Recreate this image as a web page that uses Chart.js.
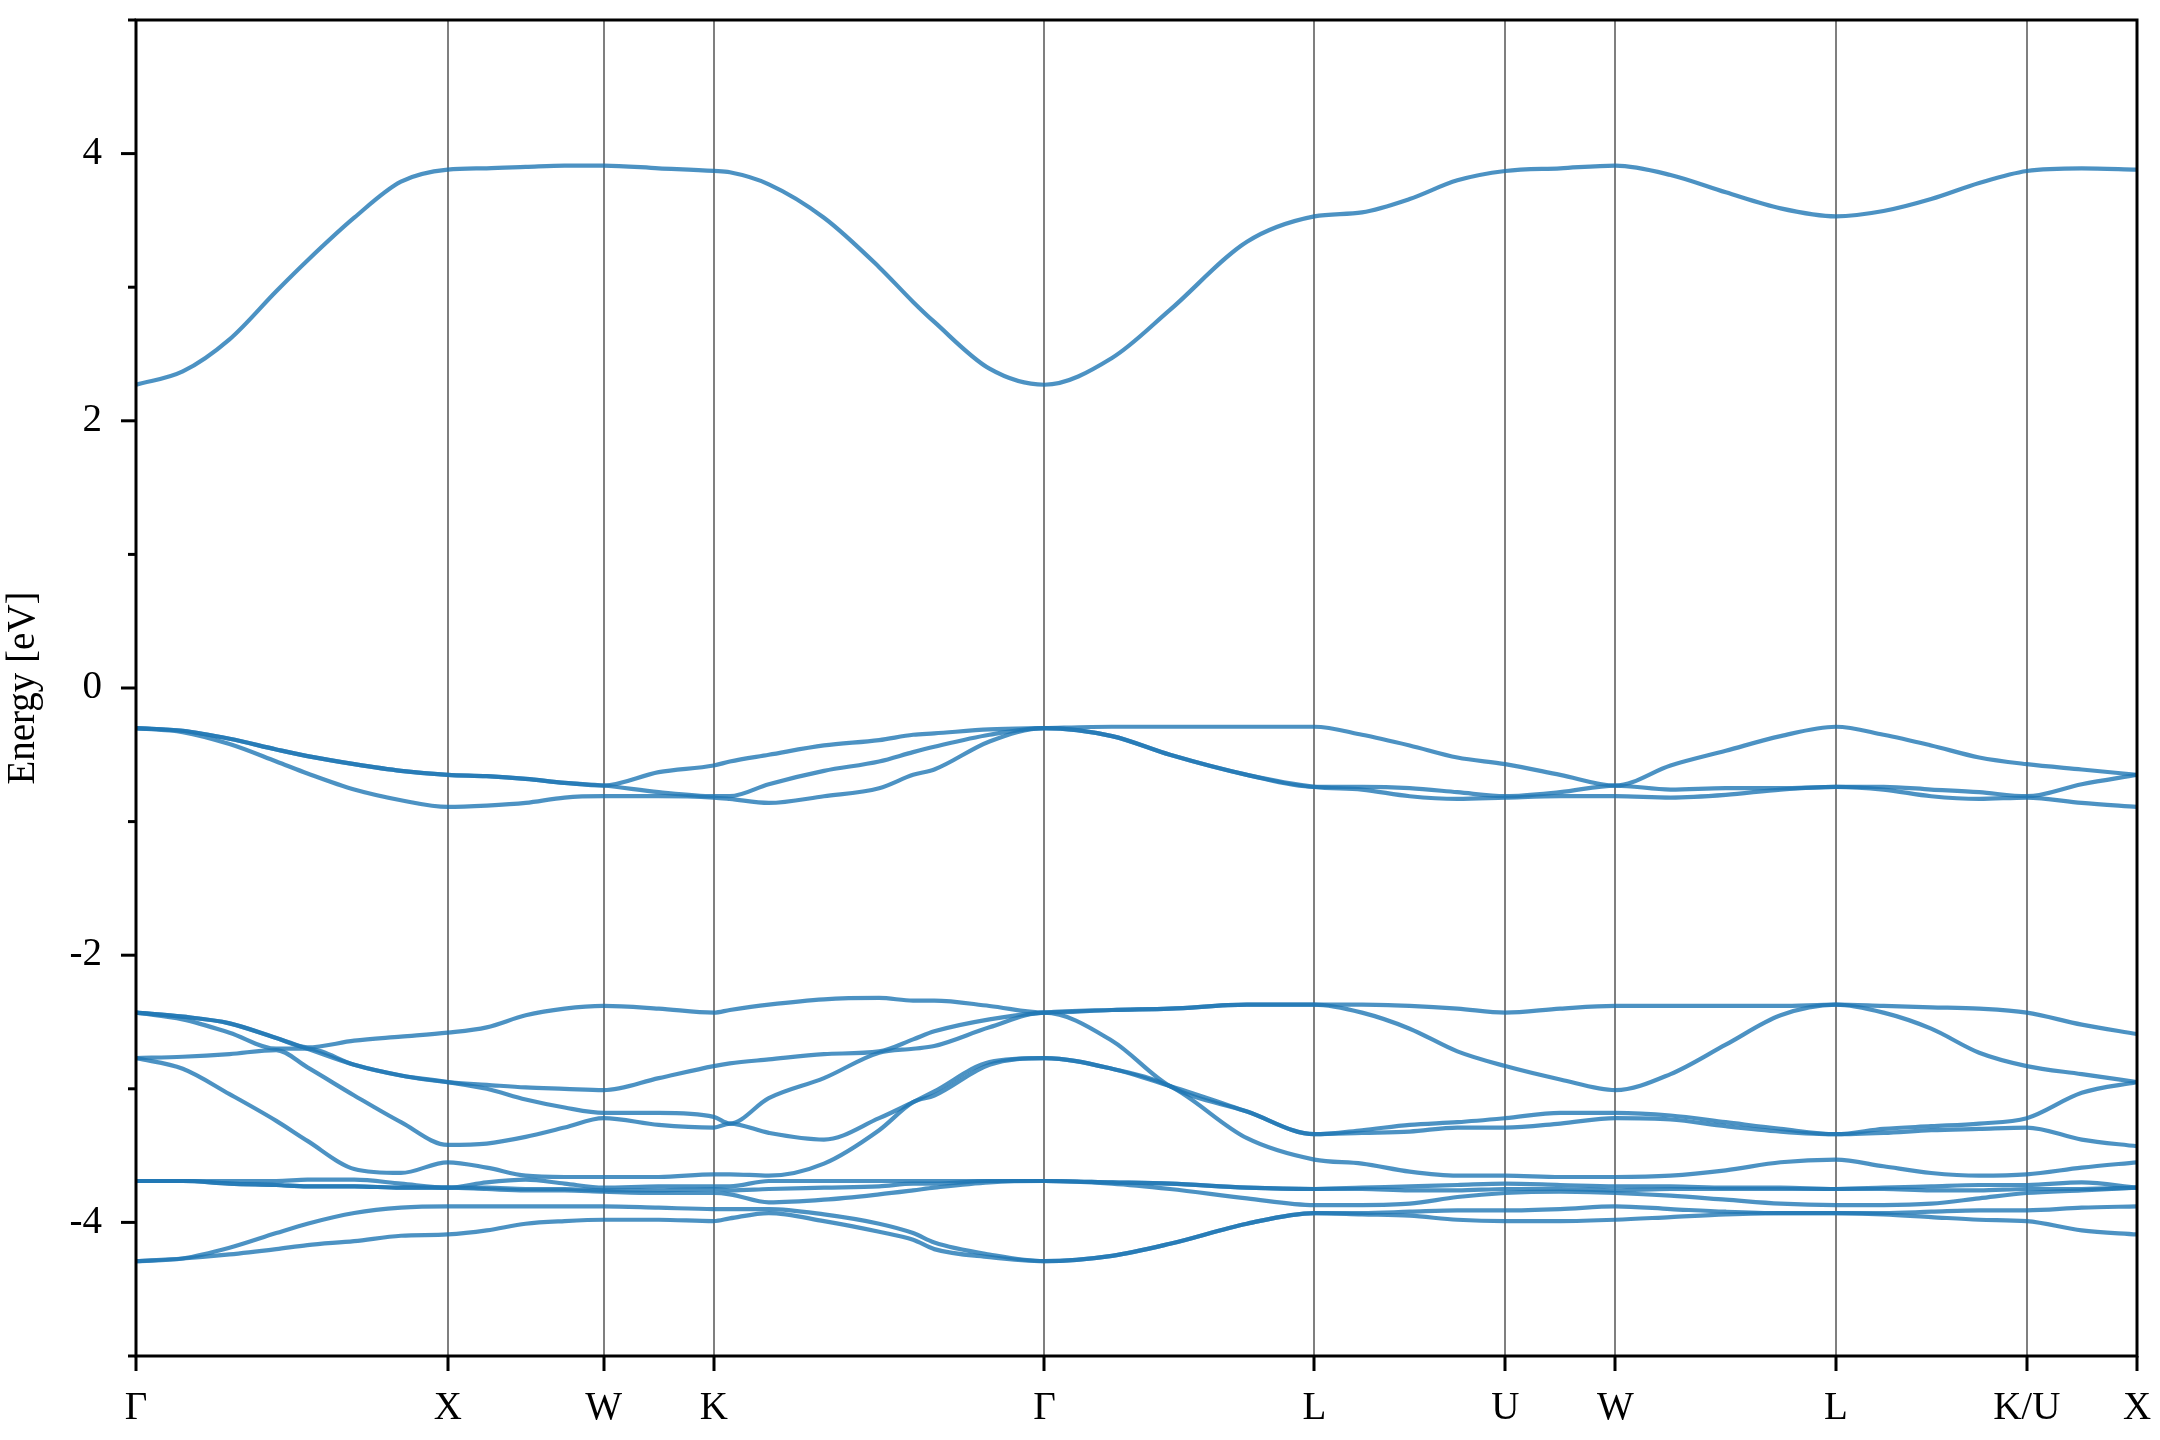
<!DOCTYPE html>
<html>
<head>
<meta charset="utf-8">
<script src="https://cdn.jsdelivr.net/npm/chart.js@4.4.1/dist/chart.umd.min.js"></script>
<style>
  html, body { margin: 0; padding: 0; background: #fff; }
  #wrap { width: 2160px; height: 1440px; }
</style>
</head>
<body>
<div id="wrap"><canvas id="bands"></canvas></div>
<script>
// k-path distances (2pi/a units) along G-X-W-K-G-L-U-W-L-K|U-X
const kPath = [0, 0.15, 0.3, 0.45, 0.55, 0.7, 0.85, 1.0, 1.125, 1.25, 1.375, 1.5, 1.677, 1.8536,
  1.905, 2.03, 2.207, 2.384, 2.493, 2.561, 2.738, 2.9142, 3.131, 3.317, 3.564, 3.7802,
  3.933, 4.086, 4.239, 4.3926, 4.569, 4.7462, 4.923, 5.1, 5.276, 5.4533,
  5.606, 5.759, 5.913, 6.0657, 6.242, 6.4193];

const kTicks = [0, 1, 1.5, 1.8536, 2.9142, 3.7802, 4.3926, 4.7462, 5.4533, 6.0657, 6.4193];
const kLabels = ['Γ', 'X', 'W', 'K', 'Γ', 'L', 'U', 'W', 'L', 'K/U', 'X'];
const yMajor = [-4, -2, 0, 2, 4];
const yMinor = [-5, -3, -1, 1, 3, 5];

// band energies in eV, lowest first
const band1 = [-4.29,-4.27,-4.24,-4.20,-4.17,-4.14,-4.10,-4.09,-4.06,-4.01,-3.99,-3.98,-3.98,-3.99,-3.97,-3.93,-3.99,-4.07,-4.13,-4.20,-4.26,-4.29,-4.25,-4.16,-4.01,-3.93,-3.94,-3.95,-3.98,-3.99,-3.99,-3.98,-3.96,-3.94,-3.93,-3.93,-3.94,-3.96,-3.98,-3.99,-4.06,-4.09];
const band2 = [-4.29,-4.27,-4.19,-4.08,-4.01,-3.93,-3.89,-3.88,-3.88,-3.88,-3.88,-3.88,-3.89,-3.90,-3.90,-3.90,-3.94,-4.01,-4.08,-4.15,-4.24,-4.29,-4.25,-4.16,-4.01,-3.93,-3.93,-3.92,-3.91,-3.91,-3.90,-3.88,-3.90,-3.92,-3.93,-3.93,-3.93,-3.92,-3.91,-3.91,-3.89,-3.88];
const band3 = [-3.69,-3.69,-3.71,-3.72,-3.73,-3.73,-3.74,-3.74,-3.75,-3.76,-3.76,-3.77,-3.78,-3.78,-3.79,-3.85,-3.83,-3.79,-3.76,-3.74,-3.70,-3.69,-3.71,-3.75,-3.82,-3.87,-3.87,-3.86,-3.81,-3.78,-3.77,-3.78,-3.80,-3.83,-3.86,-3.87,-3.87,-3.86,-3.82,-3.78,-3.76,-3.74];
const band4 = [-3.69,-3.69,-3.71,-3.72,-3.73,-3.73,-3.74,-3.74,-3.74,-3.75,-3.75,-3.76,-3.76,-3.75,-3.76,-3.75,-3.74,-3.73,-3.71,-3.71,-3.69,-3.69,-3.70,-3.71,-3.74,-3.75,-3.75,-3.76,-3.76,-3.75,-3.75,-3.76,-3.75,-3.75,-3.75,-3.75,-3.75,-3.76,-3.76,-3.75,-3.75,-3.74];
const band5 = [-3.69,-3.69,-3.69,-3.69,-3.68,-3.68,-3.71,-3.74,-3.70,-3.68,-3.71,-3.74,-3.73,-3.73,-3.73,-3.69,-3.69,-3.69,-3.69,-3.69,-3.69,-3.69,-3.70,-3.71,-3.74,-3.75,-3.74,-3.73,-3.72,-3.71,-3.72,-3.73,-3.73,-3.74,-3.74,-3.75,-3.74,-3.73,-3.72,-3.72,-3.70,-3.74];
const band6 = [-2.77,-2.85,-3.04,-3.24,-3.39,-3.60,-3.63,-3.55,-3.59,-3.65,-3.66,-3.66,-3.66,-3.64,-3.64,-3.65,-3.56,-3.31,-3.10,-3.05,-2.82,-2.77,-2.85,-2.98,-3.37,-3.53,-3.56,-3.62,-3.65,-3.65,-3.66,-3.66,-3.65,-3.61,-3.55,-3.53,-3.58,-3.63,-3.65,-3.64,-3.59,-3.55];
const band7 = [-2.77,-2.76,-2.74,-2.71,-2.84,-3.05,-3.25,-3.42,-3.41,-3.36,-3.29,-3.22,-3.27,-3.29,-3.26,-3.33,-3.38,-3.22,-3.10,-3.02,-2.80,-2.77,-2.85,-2.98,-3.17,-3.34,-3.33,-3.32,-3.29,-3.29,-3.26,-3.22,-3.23,-3.28,-3.32,-3.34,-3.33,-3.31,-3.30,-3.29,-3.38,-3.43];
const band8 = [-2.43,-2.48,-2.58,-2.70,-2.70,-2.82,-2.90,-2.95,-3.00,-3.08,-3.14,-3.18,-3.18,-3.21,-3.26,-3.07,-2.92,-2.73,-2.70,-2.68,-2.54,-2.43,-2.64,-2.98,-3.17,-3.34,-3.31,-3.27,-3.25,-3.22,-3.18,-3.18,-3.20,-3.25,-3.30,-3.34,-3.30,-3.28,-3.26,-3.22,-3.03,-2.95];
const band9 = [-2.43,-2.46,-2.51,-2.62,-2.70,-2.82,-2.90,-2.95,-2.97,-2.99,-3.00,-3.01,-2.92,-2.83,-2.81,-2.78,-2.74,-2.72,-2.63,-2.57,-2.48,-2.43,-2.41,-2.40,-2.37,-2.37,-2.43,-2.55,-2.72,-2.83,-2.93,-3.01,-2.89,-2.67,-2.45,-2.37,-2.43,-2.55,-2.73,-2.83,-2.89,-2.95];
const band10 = [-2.43,-2.46,-2.51,-2.62,-2.69,-2.64,-2.61,-2.58,-2.54,-2.45,-2.40,-2.38,-2.40,-2.43,-2.41,-2.37,-2.33,-2.32,-2.34,-2.34,-2.38,-2.43,-2.41,-2.40,-2.37,-2.37,-2.37,-2.38,-2.40,-2.43,-2.40,-2.38,-2.38,-2.38,-2.38,-2.37,-2.38,-2.39,-2.40,-2.43,-2.52,-2.59];
const band11 = [-0.30,-0.33,-0.42,-0.55,-0.64,-0.76,-0.84,-0.89,-0.88,-0.86,-0.82,-0.81,-0.81,-0.82,-0.83,-0.86,-0.81,-0.75,-0.65,-0.61,-0.40,-0.30,-0.36,-0.50,-0.65,-0.74,-0.76,-0.81,-0.83,-0.82,-0.81,-0.81,-0.82,-0.80,-0.76,-0.74,-0.76,-0.81,-0.83,-0.82,-0.86,-0.89];
const band12 = [-0.30,-0.32,-0.38,-0.46,-0.51,-0.57,-0.62,-0.65,-0.66,-0.68,-0.71,-0.73,-0.78,-0.81,-0.81,-0.72,-0.62,-0.55,-0.48,-0.44,-0.35,-0.30,-0.36,-0.50,-0.65,-0.74,-0.74,-0.75,-0.78,-0.81,-0.78,-0.73,-0.76,-0.75,-0.75,-0.74,-0.74,-0.76,-0.78,-0.81,-0.72,-0.65];
const band13 = [-0.30,-0.32,-0.38,-0.46,-0.51,-0.57,-0.62,-0.65,-0.66,-0.68,-0.71,-0.73,-0.63,-0.58,-0.55,-0.50,-0.43,-0.39,-0.35,-0.34,-0.31,-0.30,-0.29,-0.29,-0.29,-0.29,-0.35,-0.43,-0.52,-0.57,-0.65,-0.73,-0.58,-0.47,-0.36,-0.29,-0.35,-0.43,-0.52,-0.57,-0.61,-0.65];
const band14 = [2.27,2.37,2.61,2.97,3.20,3.52,3.79,3.88,3.89,3.90,3.91,3.91,3.89,3.87,3.86,3.77,3.52,3.15,2.89,2.74,2.39,2.27,2.47,2.83,3.34,3.53,3.56,3.66,3.80,3.87,3.89,3.91,3.84,3.71,3.59,3.53,3.57,3.66,3.78,3.87,3.89,3.88];

const bands = [band1, band2, band3, band4, band5, band6, band7, band8, band9, band10, band11, band12, band13, band14];

const serif = "'Liberation Serif', 'Times New Roman', serif";

// box around the plot + y tick marks (major and minor)
const frame = {
  id: 'frame',
  afterDatasetsDraw(chart) {
    const { ctx, chartArea: a, scales: { y } } = chart;
    ctx.save();
    ctx.strokeStyle = '#000';
    ctx.lineWidth = 3;
    ctx.strokeRect(a.left, a.top, a.right - a.left, a.bottom - a.top);
    const mark = (v, len) => {
      const py = y.getPixelForValue(v);
      ctx.beginPath();
      ctx.moveTo(a.left - len, py);
      ctx.lineTo(a.left, py);
      ctx.stroke();
    };
    yMajor.forEach(v => mark(v, 15));
    yMinor.forEach(v => mark(v, 8));
    ctx.restore();
  }
};

new Chart(document.getElementById('bands'), {
  type: 'line',
  data: {
    datasets: bands.map((b, i) => ({
      label: 'band ' + (i + 1),
      data: kPath.map((k, j) => ({ x: k, y: b[j] })),
      borderColor: 'rgba(31,119,180,0.8)',
      borderWidth: 4.2,
      pointRadius: 0,
      cubicInterpolationMode: 'monotone',
      fill: false
    }))
  },
  options: {
    responsive: true,
    maintainAspectRatio: false,
    animation: false,
    devicePixelRatio: 1,
    layout: { padding: { top: 20, right: 23, left: 0, bottom: 0 } },
    plugins: { legend: { display: false }, tooltip: { enabled: false } },
    scales: {
      x: {
        type: 'linear',
        min: 0,
        max: 6.4193,
        afterBuildTicks: s => { s.ticks = kTicks.map(v => ({ value: v })); },
        afterFit: s => { s.height = 84; s.paddingLeft = 0; s.paddingRight = 0; },
        ticks: {
          autoSkip: false,
          maxRotation: 0,
          padding: 14,
          color: '#000',
          font: { family: serif, size: 39 },
          callback: (v, i) => kLabels[i]
        },
        grid: { color: 'rgba(0,0,0,0.5)', lineWidth: 2, tickColor: '#000', tickWidth: 3, tickLength: 15 },
        border: { display: false }
      },
      y: {
        min: -5,
        max: 5,
        afterBuildTicks: s => { s.ticks = yMajor.map(v => ({ value: v })); },
        afterFit: s => { s.width = 136; s.paddingTop = 0; s.paddingBottom = 0; },
        ticks: {
          padding: 34,
          color: '#000',
          font: { family: serif, size: 39 },
          callback: v => String(v)
        },
        grid: { display: true, drawOnChartArea: false, drawTicks: false },
        border: { display: false },
        title: {
          display: true,
          text: 'Energy [eV]',
          color: '#000',
          font: { family: serif, size: 39 },
          padding: 0
        }
      }
    }
  },
  plugins: [frame]
});
</script>
</body>
</html>
